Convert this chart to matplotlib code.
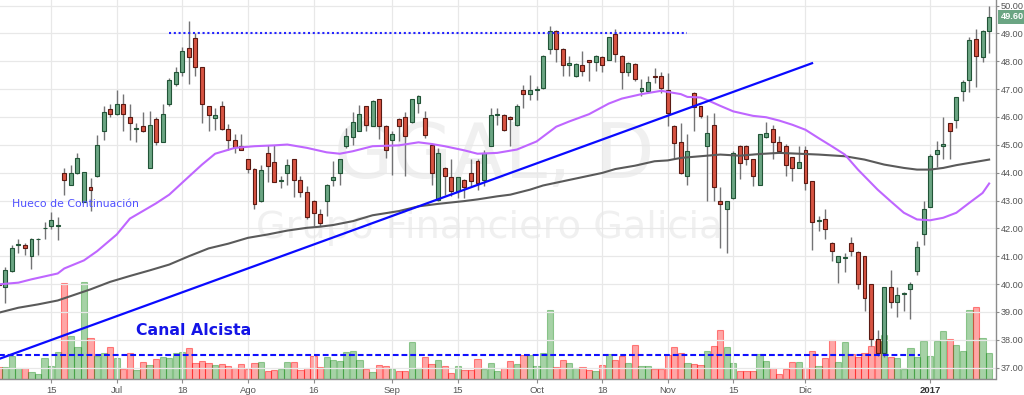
import matplotlib
matplotlib.use("Agg")
import matplotlib.pyplot as plt
import matplotlib.transforms as mtransforms


# daily candles GGAL (one per trading day, index 0 = first visible day)
opens = [40.00, 39.90, 40.47, 41.40, 41.40, 41.00, 41.60, 42.00, 42.08, 42.08,
	43.97, 43.56, 43.97, 42.96, 43.48, 43.87, 45.48, 46.30, 46.11, 46.46,
	45.99, 45.58, 45.69, 44.17, 45.94, 45.10, 46.46, 47.18, 47.63, 48.47,
	48.85, 47.78, 46.38, 45.96, 46.38, 45.57, 45.19, 44.94, 44.49, 44.13,
	42.97, 44.71, 44.37, 43.69, 43.99, 44.49, 43.75, 43.30, 43.00, 42.50,
	42.97, 43.74, 43.97, 44.95, 45.28, 45.51, 46.38, 45.69, 46.64, 45.69,
	45.19, 45.93, 45.99, 45.81, 46.50, 45.96, 44.98, 43.03, 44.17, 43.84,
	43.33, 43.75, 43.99, 44.43, 43.75, 44.97, 46.08, 46.08, 45.99, 45.70,
	46.98, 46.82, 46.96, 47.04, 48.43, 49.10, 48.45, 47.86, 47.46, 47.86,
	48.04, 47.96, 48.17, 48.05, 48.97, 48.20, 47.63, 47.91, 46.95, 46.95,
	47.46, 47.46, 46.98, 45.69, 45.09, 43.87, 46.86, 46.38, 44.97, 45.72,
	43.00, 42.68, 43.09, 44.97, 44.97, 44.49, 43.57, 45.28, 45.57, 45.09,
	44.97, 44.56, 44.17, 44.83, 43.69, 42.28, 42.32, 41.48, 40.80, 40.95,
	41.48, 41.15, 41.00, 40.01, 38.02, 37.54, 39.89, 39.35, 39.66, 39.81,
	40.47, 41.78, 42.77, 44.68, 44.97, 45.78, 45.88, 46.92, 47.31, 48.79,
	48.17, 49.10]
highs = [40.05, 40.60, 41.42, 41.60, 41.48, 41.65, 41.65, 42.22, 42.60, 42.40,
	44.17, 44.29, 44.71, 44.03, 43.81, 45.36, 46.38, 46.48, 46.98, 46.82,
	46.46, 45.78, 46.18, 46.20, 46.00, 46.46, 47.40, 47.81, 48.53, 49.46,
	49.00, 47.80, 46.40, 46.32, 46.58, 45.76, 45.39, 45.39, 44.50, 44.15,
	44.29, 45.01, 45.01, 43.87, 44.49, 44.50, 43.89, 43.51, 43.02, 42.70,
	43.60, 44.43, 44.50, 45.60, 46.18, 46.44, 46.40, 46.60, 46.66, 45.70,
	45.51, 45.95, 46.18, 46.66, 46.80, 46.22, 45.07, 44.89, 44.20, 44.49,
	43.86, 43.77, 44.49, 44.49, 44.80, 46.32, 46.32, 46.10, 46.02, 46.48,
	47.16, 47.51, 47.12, 48.22, 49.28, 49.12, 48.47, 48.20, 47.93, 48.38,
	48.06, 48.22, 48.20, 48.88, 49.16, 48.22, 47.99, 47.93, 47.37, 47.46,
	47.75, 47.63, 47.58, 45.70, 45.78, 45.39, 46.88, 46.40, 46.08, 46.16,
	43.48, 43.00, 44.77, 44.99, 44.99, 44.50, 45.40, 45.82, 45.72, 45.33,
	45.03, 44.58, 44.97, 44.97, 43.70, 42.46, 42.68, 41.50, 41.02, 41.12,
	41.70, 41.18, 41.02, 40.02, 38.34, 39.90, 40.49, 39.89, 39.70, 40.07,
	41.54, 42.97, 44.68, 45.13, 45.99, 45.80, 46.72, 47.34, 48.86, 49.16,
	49.12, 50.00]
lows = [39.85, 39.31, 40.45, 41.12, 41.03, 40.53, 41.03, 41.60, 41.96, 41.58,
	43.21, 43.55, 43.95, 42.96, 42.62, 43.85, 45.19, 46.00, 46.08, 45.50,
	45.19, 45.09, 45.45, 44.15, 44.98, 45.10, 46.40, 47.10, 47.48, 47.19,
	47.48, 45.78, 45.51, 45.52, 45.52, 44.80, 44.71, 44.80, 43.99, 42.70,
	42.95, 43.66, 43.66, 43.45, 43.57, 43.11, 43.13, 42.32, 42.08, 42.08,
	42.44, 43.51, 43.57, 44.90, 44.98, 45.50, 45.51, 45.67, 45.21, 44.53,
	43.93, 45.13, 43.87, 45.80, 46.14, 45.24, 43.57, 43.00, 43.18, 43.15,
	43.09, 43.09, 43.51, 43.39, 43.51, 44.95, 45.72, 45.48, 44.95, 45.68,
	46.32, 46.62, 46.60, 47.02, 48.27, 47.99, 47.46, 47.46, 47.44, 47.48,
	47.28, 47.66, 47.60, 48.03, 47.99, 47.00, 47.46, 47.28, 46.74, 46.94,
	47.22, 46.86, 45.68, 44.49, 43.95, 43.57, 45.51, 45.98, 42.97, 42.97,
	41.30, 41.12, 43.07, 43.78, 44.29, 43.51, 43.55, 45.26, 44.49, 44.71,
	43.89, 43.69, 44.15, 43.39, 41.22, 41.92, 41.62, 40.82, 40.05, 40.43,
	41.02, 39.83, 39.03, 37.78, 37.40, 37.38, 39.15, 38.83, 39.03, 38.76,
	40.31, 41.42, 42.75, 44.21, 44.49, 44.49, 45.60, 46.59, 46.88, 47.07,
	47.99, 48.29]
closes = [39.95, 40.49, 41.30, 41.44, 41.28, 41.60, 41.62, 42.02, 42.29, 42.12,
	43.75, 43.97, 44.54, 44.03, 43.36, 44.98, 46.18, 46.11, 46.46, 46.11,
	45.78, 45.60, 45.48, 45.72, 45.10, 46.12, 47.34, 47.63, 48.38, 48.17,
	47.78, 46.46, 46.08, 46.08, 45.57, 45.19, 44.91, 44.83, 44.13, 42.88,
	44.09, 44.23, 43.68, 43.70, 44.29, 43.75, 43.30, 42.40, 42.56, 42.20,
	43.57, 43.84, 44.49, 45.30, 45.82, 46.12, 45.70, 46.58, 45.69, 44.83,
	45.39, 45.69, 45.30, 46.64, 46.77, 45.36, 43.97, 44.71, 43.87, 43.33,
	43.84, 43.48, 43.69, 43.63, 44.71, 46.08, 46.12, 45.54, 45.93, 46.38,
	46.82, 46.98, 46.97, 48.20, 49.10, 48.43, 47.86, 47.93, 47.91, 47.66,
	47.98, 48.20, 47.86, 48.86, 48.26, 47.63, 47.93, 47.37, 47.04, 47.26,
	47.42, 47.04, 46.16, 45.07, 43.97, 44.77, 46.36, 46.02, 45.42, 43.48,
	42.88, 42.97, 44.71, 44.35, 44.49, 43.87, 45.39, 45.42, 45.10, 44.77,
	44.29, 44.17, 44.37, 43.63, 42.22, 42.30, 41.98, 41.18, 41.00, 40.97,
	41.18, 40.01, 39.49, 38.02, 37.54, 39.89, 39.35, 39.62, 39.68, 40.01,
	41.34, 42.70, 44.59, 44.83, 45.04, 45.48, 46.71, 47.25, 48.77, 48.20,
	49.10, 49.60]
volumes = [36, 36, 70, 33, 33, 23, 16, 63, 41, 81,
	290, 130, 96, 293, 125, 70, 78, 98, 63, 31,
	78, 28, 51, 43, 60, 66, 63, 78, 83, 93,
	48, 56, 50, 43, 45, 41, 33, 46, 30, 48,
	53, 26, 28, 30, 51, 51, 28, 33, 71, 38,
	68, 58, 55, 81, 85, 58, 30, 21, 43, 40,
	30, 25, 26, 111, 35, 66, 46, 58, 40, 20,
	40, 28, 28, 61, 30, 48, 26, 33, 55, 45,
	73, 73, 41, 78, 208, 36, 58, 48, 33, 36,
	28, 26, 43, 75, 58, 70, 48, 103, 41, 41,
	30, 30, 73, 96, 80, 48, 45, 43, 85, 101,
	148, 96, 50, 25, 25, 25, 76, 55, 33, 16,
	31, 51, 51, 33, 85, 41, 65, 117, 53, 113,
	76, 66, 78, 101, 118, 133, 66, 63, 30, 93,
	66, 115, 70, 115, 146, 120, 103, 85, 208, 216,
	125, 80]

# moving averages (day index, value)
purpleDays = [0, 3, 5, 9, 10, 13, 15, 18, 20, 24, 26, 29, 31, 33, 36, 39, 42, 44, 47, 50,
	52, 54, 57, 61, 64, 66, 68, 71, 73, 76, 79, 82, 85, 87, 90, 93, 95, 98, 101, 104,
	105, 107, 108, 110, 112, 115, 117, 119, 121, 123, 125, 127, 129, 131, 134, 136, 138, 140, 142, 144,
	146, 148, 150, 151]
purpleVals = [39.99, 40.05, 40.17, 40.38, 40.56, 40.85, 41.18, 41.78, 42.35, 42.90, 43.21, 43.86, 44.29, 44.68, 44.89, 44.95, 44.98, 45.01, 44.89, 44.73,
	44.68, 44.77, 44.95, 44.98, 45.09, 45.03, 44.95, 44.80, 44.68, 44.71, 44.83, 45.12, 45.65, 45.84, 46.10, 46.48, 46.66, 46.82, 46.94, 46.82,
	46.72, 46.70, 46.61, 46.40, 46.20, 46.04, 45.99, 45.87, 45.72, 45.54, 45.24, 44.95, 44.65, 44.11, 43.39, 42.97, 42.56, 42.32, 42.29, 42.38,
	42.56, 42.92, 43.27, 43.61]
grayDays = [0, 3, 6, 9, 12, 14, 17, 20, 23, 26, 29, 32, 35, 38, 41, 44, 47, 49, 51, 54,
	57, 61, 64, 67, 71, 73, 76, 78, 81, 83, 86, 89, 92, 94, 97, 100, 102, 104, 107, 110,
	113, 116, 119, 122, 125, 127, 129, 132, 135, 138, 140, 142, 144, 146, 148, 151]
grayVals = [38.97, 39.15, 39.27, 39.41, 39.65, 39.81, 40.08, 40.29, 40.49, 40.70, 41.00, 41.28, 41.45, 41.66, 41.78, 41.92, 42.02, 42.06, 42.12, 42.26,
	42.47, 42.62, 42.79, 42.88, 42.98, 43.04, 43.15, 43.21, 43.39, 43.54, 43.69, 43.84, 43.99, 44.13, 44.25, 44.41, 44.44, 44.53, 44.59, 44.65,
	44.61, 44.67, 44.71, 44.68, 44.65, 44.62, 44.59, 44.47, 44.29, 44.17, 44.11, 44.11, 44.17, 44.27, 44.35, 44.47]

# x axis labels (day index of each date)
tickDays = [8, 18, 28, 38, 48, 60, 70, 82, 92, 102, 112, 123, 142]
tickLabels = ["15", "Jul", "18", "Ago", "16", "Sep", "15", "Oct", "18", "Nov", "15", "Dic", "2017"]
priceTicks = [37, 38, 39, 40, 41, 42, 43, 44, 45, 46, 47, 48, 49, 50]

# drawings
trendDays = [-1, 124]
trendVals = [37.22, 47.93]
resistDays = [26, 105]
resistVal = 49.0
supportDays = [-1, 140.5]
supportVal = 37.44
lastPrice = 49.60


upBody = "#6ba583"
upEdge = "#225437"
downBody = "#d75442"
downEdge = "#5b1a13"
tickFont = "Liberation Sans"

days = list(range(len(closes)))
isUp = [c >= o for o, c in zip(opens, closes)]

fig = plt.figure(figsize=(10.24, 3.95), dpi=100)
fig.patch.set_facecolor("white")
ax = fig.add_axes([0, 15.7 / 395, 995.5 / 1024, 379.3 / 395])
axVol = ax.twinx()
ax.set_zorder(axVol.get_zorder() + 1)
ax.patch.set_visible(False)

# volume
volFace = [(0.0, 0.5, 0.0, 0.35) if u else (1.0, 0.0, 0.0, 0.35) for u in isUp]
volEdge = [(0.0, 0.5, 0.0, 0.35) if u else (1.0, 0.0, 0.0, 0.45) for u in isUp]
axVol.bar(days, volumes, width=0.95, color=volFace, edgecolor=volEdge, linewidth=0.8)
axVol.set_ylim(0, 1137)
axVol.set_yticks([])
for s in axVol.spines.values():
	s.set_visible(False)

# watermark
ax.text(0.496, 0.586, "GGAL, D", transform=ax.transAxes, fontsize=55, color="#f0f0f0",
	ha="center", va="center", zorder=0)
ax.text(0.4915, 0.398, "Grupo Financiero Galicia", transform=ax.transAxes, fontsize=27.5,
	color="#f0f0f0", ha="center", va="center", zorder=0)

# candles
ax.vlines(days, lows, highs, color="#737375", linewidth=1.0, zorder=2)
bottoms = [min(o, c) for o, c in zip(opens, closes)]
heights = [max(abs(c - o), 0.03) for o, c in zip(opens, closes)]
ax.bar(days, heights, bottom=bottoms, width=0.6,
	color=[upBody if u else downBody for u in isUp],
	edgecolor=[upEdge if u else downEdge for u in isUp], linewidth=0.8, zorder=3)

# moving averages
ax.plot(grayDays, grayVals, color="#5a5a5a", linewidth=1.5, zorder=4)
ax.plot(purpleDays, purpleVals, color="#bf66ff", linewidth=1.5, zorder=4)

# user drawings
ax.plot(trendDays, trendVals, color="#0a0aff", linewidth=1.6, zorder=5)
ax.plot(resistDays, [resistVal, resistVal], color="#2525ff", linewidth=1.5,
	dashes=(1, 1.3), zorder=5)
ax.plot(supportDays, [supportVal, supportVal], color="#1010ff", linewidth=1.5,
	dashes=(2.8, 1.4), zorder=5)

ax.text(2.0, 42.86, "Hueco de Continuación", color="#5050ff", fontsize=7.8,
	ha="left", va="center", zorder=6)
ax.text(20.9, 38.34, "Canal Alcista", color="#1414e6", fontsize=11.3,
	fontweight="bold", ha="left", va="center", zorder=6)

# axes
ax.set_xlim(0.2, 151.97)
ax.set_ylim(36.58, 50.20)
ax.yaxis.tick_right()
ax.set_yticks(priceTicks)
ax.set_yticklabels(["%.2f" % p for p in priceTicks], fontfamily=tickFont)
ax.set_xticks(tickDays)
ax.set_xticklabels(tickLabels, fontfamily=tickFont)
ax.tick_params(axis="y", length=2, color="#8c8c8c", labelsize=6.6, labelcolor="#555555", pad=1.5)
ax.tick_params(axis="x", length=3, color="#8c8c8c", labelsize=6.8, labelcolor="#555555", pad=2)
ax.get_xticklabels()[-1].set_fontweight("bold")
ax.get_xticklabels()[-1].set_color("#333333")
ax.grid(True, color="#e8e8e8", linewidth=0.9)
ax.set_axisbelow(True)
for name in ["left", "top"]:
	ax.spines[name].set_visible(False)
for name in ["right", "bottom"]:
	ax.spines[name].set_color("#8c8c8c")
	ax.spines[name].set_linewidth(1.0)

# last price marker
trans = mtransforms.blended_transform_factory(ax.transAxes, ax.transData)
ax.text(1.005, lastPrice, "%.2f" % lastPrice, transform=trans, color="white", fontsize=6.6,
	fontfamily=tickFont, fontweight="bold", ha="left", va="center", zorder=7, clip_on=False,
	bbox=dict(boxstyle="square,pad=0.25", facecolor=upBody, edgecolor="none"))

fig.savefig("out.png", dpi=100)
